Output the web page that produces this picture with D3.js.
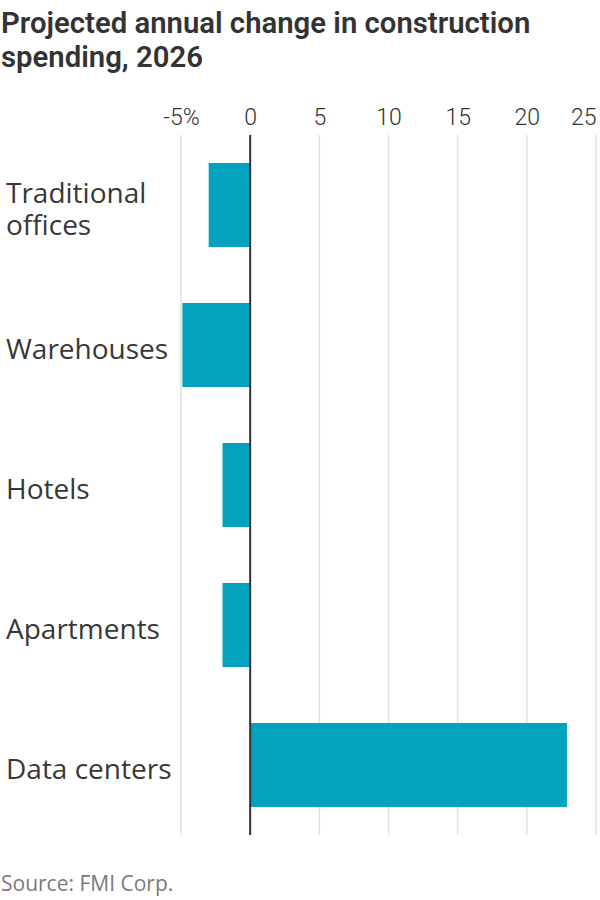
<!DOCTYPE html>
<html>
<head>
<meta charset="utf-8">
<script src="https://cdn.jsdelivr.net/npm/d3@7"></script>
<style>
  html, body { margin: 0; padding: 0; background: #fff; }
  svg { display: block; }
</style>
</head>
<body>
<svg id="chart" width="600" height="900"></svg>
<script>
const titleLines = ["Projected annual change in construction", "spending, 2026"];
const categories = ["Traditional offices", "Warehouses", "Hotels", "Apartments", "Data centers"];
const categoryLines = [["Traditional", "offices"], ["Warehouses"], ["Hotels"], ["Apartments"], ["Data centers"]];
const values = [-3, -4.9, -2, -2, 22.9];
const tickValues = [-5, 0, 5, 10, 15, 20, 25];
const tickLabels = ["-5%", "0", "5", "10", "15", "20", "25"];
const sourceText = "Source: FMI Corp.";

const svg = d3.select("#chart");
const x = d3.scaleLinear().domain([-5, 25]).range([181, 596]);
const y = d3.scaleBand().domain(categories).range([135, 835]).paddingInner(0.4).paddingOuter(0.2);

// title
svg.append("g").selectAll("text").data(titleLines).join("text")
  .attr("x", 1).attr("y", (d, i) => 33 + i * 34)
  .attr("font-family", "Roboto").attr("font-weight", 600).attr("font-size", 29.3)
  .attr("fill", "#333").text(d => d);

// gridlines
const grid = svg.append("g");
grid.selectAll("line").data(tickValues.filter(d => d !== 0)).join("line")
  .attr("x1", d => x(d)).attr("x2", d => x(d)).attr("y1", 135).attr("y2", 835)
  .attr("stroke", "#e2e2e2").attr("stroke-width", 1.6);

// tick labels via axis
const axis = d3.axisTop(x).tickValues(tickValues).tickFormat((d, i) => tickLabels[i]).tickSize(0).tickPadding(0);
const ax = svg.append("g").attr("transform", "translate(0,125)").call(axis);
ax.select(".domain").remove();
ax.selectAll("text").attr("font-family", "Roboto").attr("font-weight", 300).attr("font-size", 23).attr("fill", "#333").attr("dy", 0)
  .attr("text-anchor", (d, i) => i === tickValues.length - 1 ? "end" : "middle");

// bars
svg.append("g").selectAll("rect").data(values).join("rect")
  .attr("x", d => x(Math.min(0, d))).attr("width", d => Math.abs(x(d) - x(0)))
  .attr("y", (d, i) => y(categories[i])).attr("height", y.bandwidth())
  .attr("fill", "#03a3bf");

// zero line
svg.append("line").attr("x1", x(0)).attr("x2", x(0)).attr("y1", 135).attr("y2", 835)
  .attr("stroke", "#333").attr("stroke-width", 2);

// category labels
const lab = svg.append("g").selectAll("text").data(categories).join("text")
  .attr("font-family", "Open Sans").attr("font-weight", 400).attr("font-size", 28).attr("fill", "#383838")
  .attr("x", 6)
  .attr("y", (d, i) => y(d) + y.bandwidth() / 2 + 14 - (categoryLines[i].length - 1) * 16);
lab.selectAll("tspan").data((d, i) => categoryLines[i]).join("tspan")
  .attr("x", 6).attr("dy", (d, j) => j === 0 ? 0 : 32).text(d => d);

// source
svg.append("text").attr("x", 1).attr("y", 891)
  .attr("font-family", "Open Sans").attr("font-weight", 400).attr("font-size", 21).attr("fill", "#7a7a7a").text(sourceText);
</script>
</body>
</html>
